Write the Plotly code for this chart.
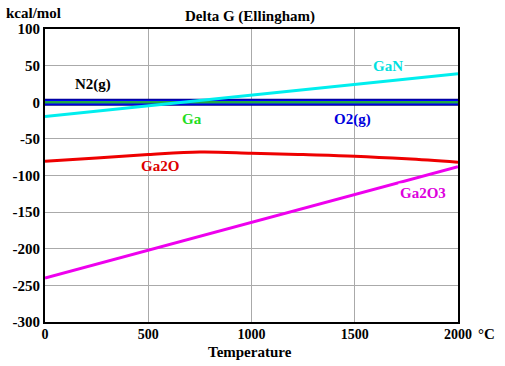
import plotly.graph_objects as go

temps = [0, 250, 500, 750, 1000, 1250, 1500, 1750, 2000]
n2_g = [0, 0, 0, 0, 0, 0, 0, 0, 0]
o2_g = [0, 0, 0, 0, 0, 0, 0, 0, 0]
ga = [0, 0, 0, 0, 0, 0, 0, 0, 0]
gan = [-19.5, -12.2, -4.9, 2.4, 9.7, 17, 24.4, 31.7, 39]
ga2o = [-80.5, -76, -71.5, -68, -69.5, -71.5, -73.7, -77.3, -82]
ga2o3 = [-240, -221, -202, -183, -164, -145, -126, -107, -88]

xticks = [0, 500, 1000, 1500, 2000]
yticks = [100, 50, 0, -50, -100, -150, -200, -250, -300]

FONT = "Liberation Serif"

fig = go.Figure()
fig.add_trace(go.Scatter(x=temps, y=n2_g, mode="lines", line=dict(color="#00008B", width=7), name="N2(g)"))
fig.add_trace(go.Scatter(x=temps, y=o2_g, mode="lines", line=dict(color="#0000FF", width=5), name="O2(g)"))
fig.add_trace(go.Scatter(x=temps, y=ga, mode="lines", line=dict(color="#22AA44", width=2.5), name="Ga"))
fig.add_trace(go.Scatter(x=temps, y=gan, mode="lines", line=dict(color="#00EEEE", width=3), name="GaN"))
fig.add_trace(go.Scatter(x=temps, y=ga2o, mode="lines", line=dict(color="#EE0000", width=3, shape="spline"), name="Ga2O"))
fig.add_trace(go.Scatter(x=temps, y=ga2o3, mode="lines", line=dict(color="#EE00EE", width=3), name="Ga2O3"))

def lab(text, x, y, color, bg=None):
    d = dict(text="<b>%s</b>" % text, x=x, y=y, xref="x", yref="y", showarrow=False,
             font=dict(family=FONT, size=15, color=color))
    if bg:
        d["bgcolor"] = bg
    fig.add_annotation(**d)

lab("N2(g)", 232, 24, "#000000")
lab("GaN", 1660, 49, "#00E0E0", "white")
lab("Ga", 712, -23, "#22DD22")
lab("O2(g)", 1491, -23, "#0000DD")
lab("Ga2O", 557, -87, "#DD0000")
lab("Ga2O3", 1830, -124, "#DD00DD", "white")

def plab(text, x, y, xanchor="center", size=15):
    fig.add_annotation(text="<b>%s</b>" % text, x=x, y=y, xref="paper", yref="paper",
                       showarrow=False, xanchor=xanchor, yanchor="middle",
                       font=dict(family=FONT, size=size, color="black"))

plab("Delta G (Ellingham)", 0.497, 1.041)
plab("kcal/mol", -0.099, 1.053, "left")
plab("Temperature", 0.497, -0.102)
plab("°C", 1.068, -0.041)

fig.update_layout(
    width=505, height=366,
    margin=dict(l=45, r=47, t=29, b=44),
    paper_bgcolor="white", plot_bgcolor="white",
    showlegend=False,
    font=dict(family=FONT, size=15, color="black"),
)
fig.update_xaxes(range=[0, 2000], tickvals=xticks, ticktext=["<b>%d</b>" % v for v in xticks],
                 showgrid=True, gridcolor="#AAAAAA", gridwidth=1, zeroline=False,
                 showline=True, linecolor="black", linewidth=2, mirror=True, ticks="",
                 ticklabelstandoff=-2, tickfont=dict(size=14))
fig.update_yaxes(range=[-300, 100], tickvals=yticks, ticktext=["<b>%d</b>" % v for v in yticks],
                 showgrid=True, gridcolor="#AAAAAA", gridwidth=1, zeroline=False,
                 showline=True, linecolor="black", linewidth=2, mirror=True, ticks="",
                 tickfont=dict(size=15))

fig.write_html("out.html", config={"displayModeBar": False},
               post_script="document.body.style.margin='0';document.body.style.padding='0';")
